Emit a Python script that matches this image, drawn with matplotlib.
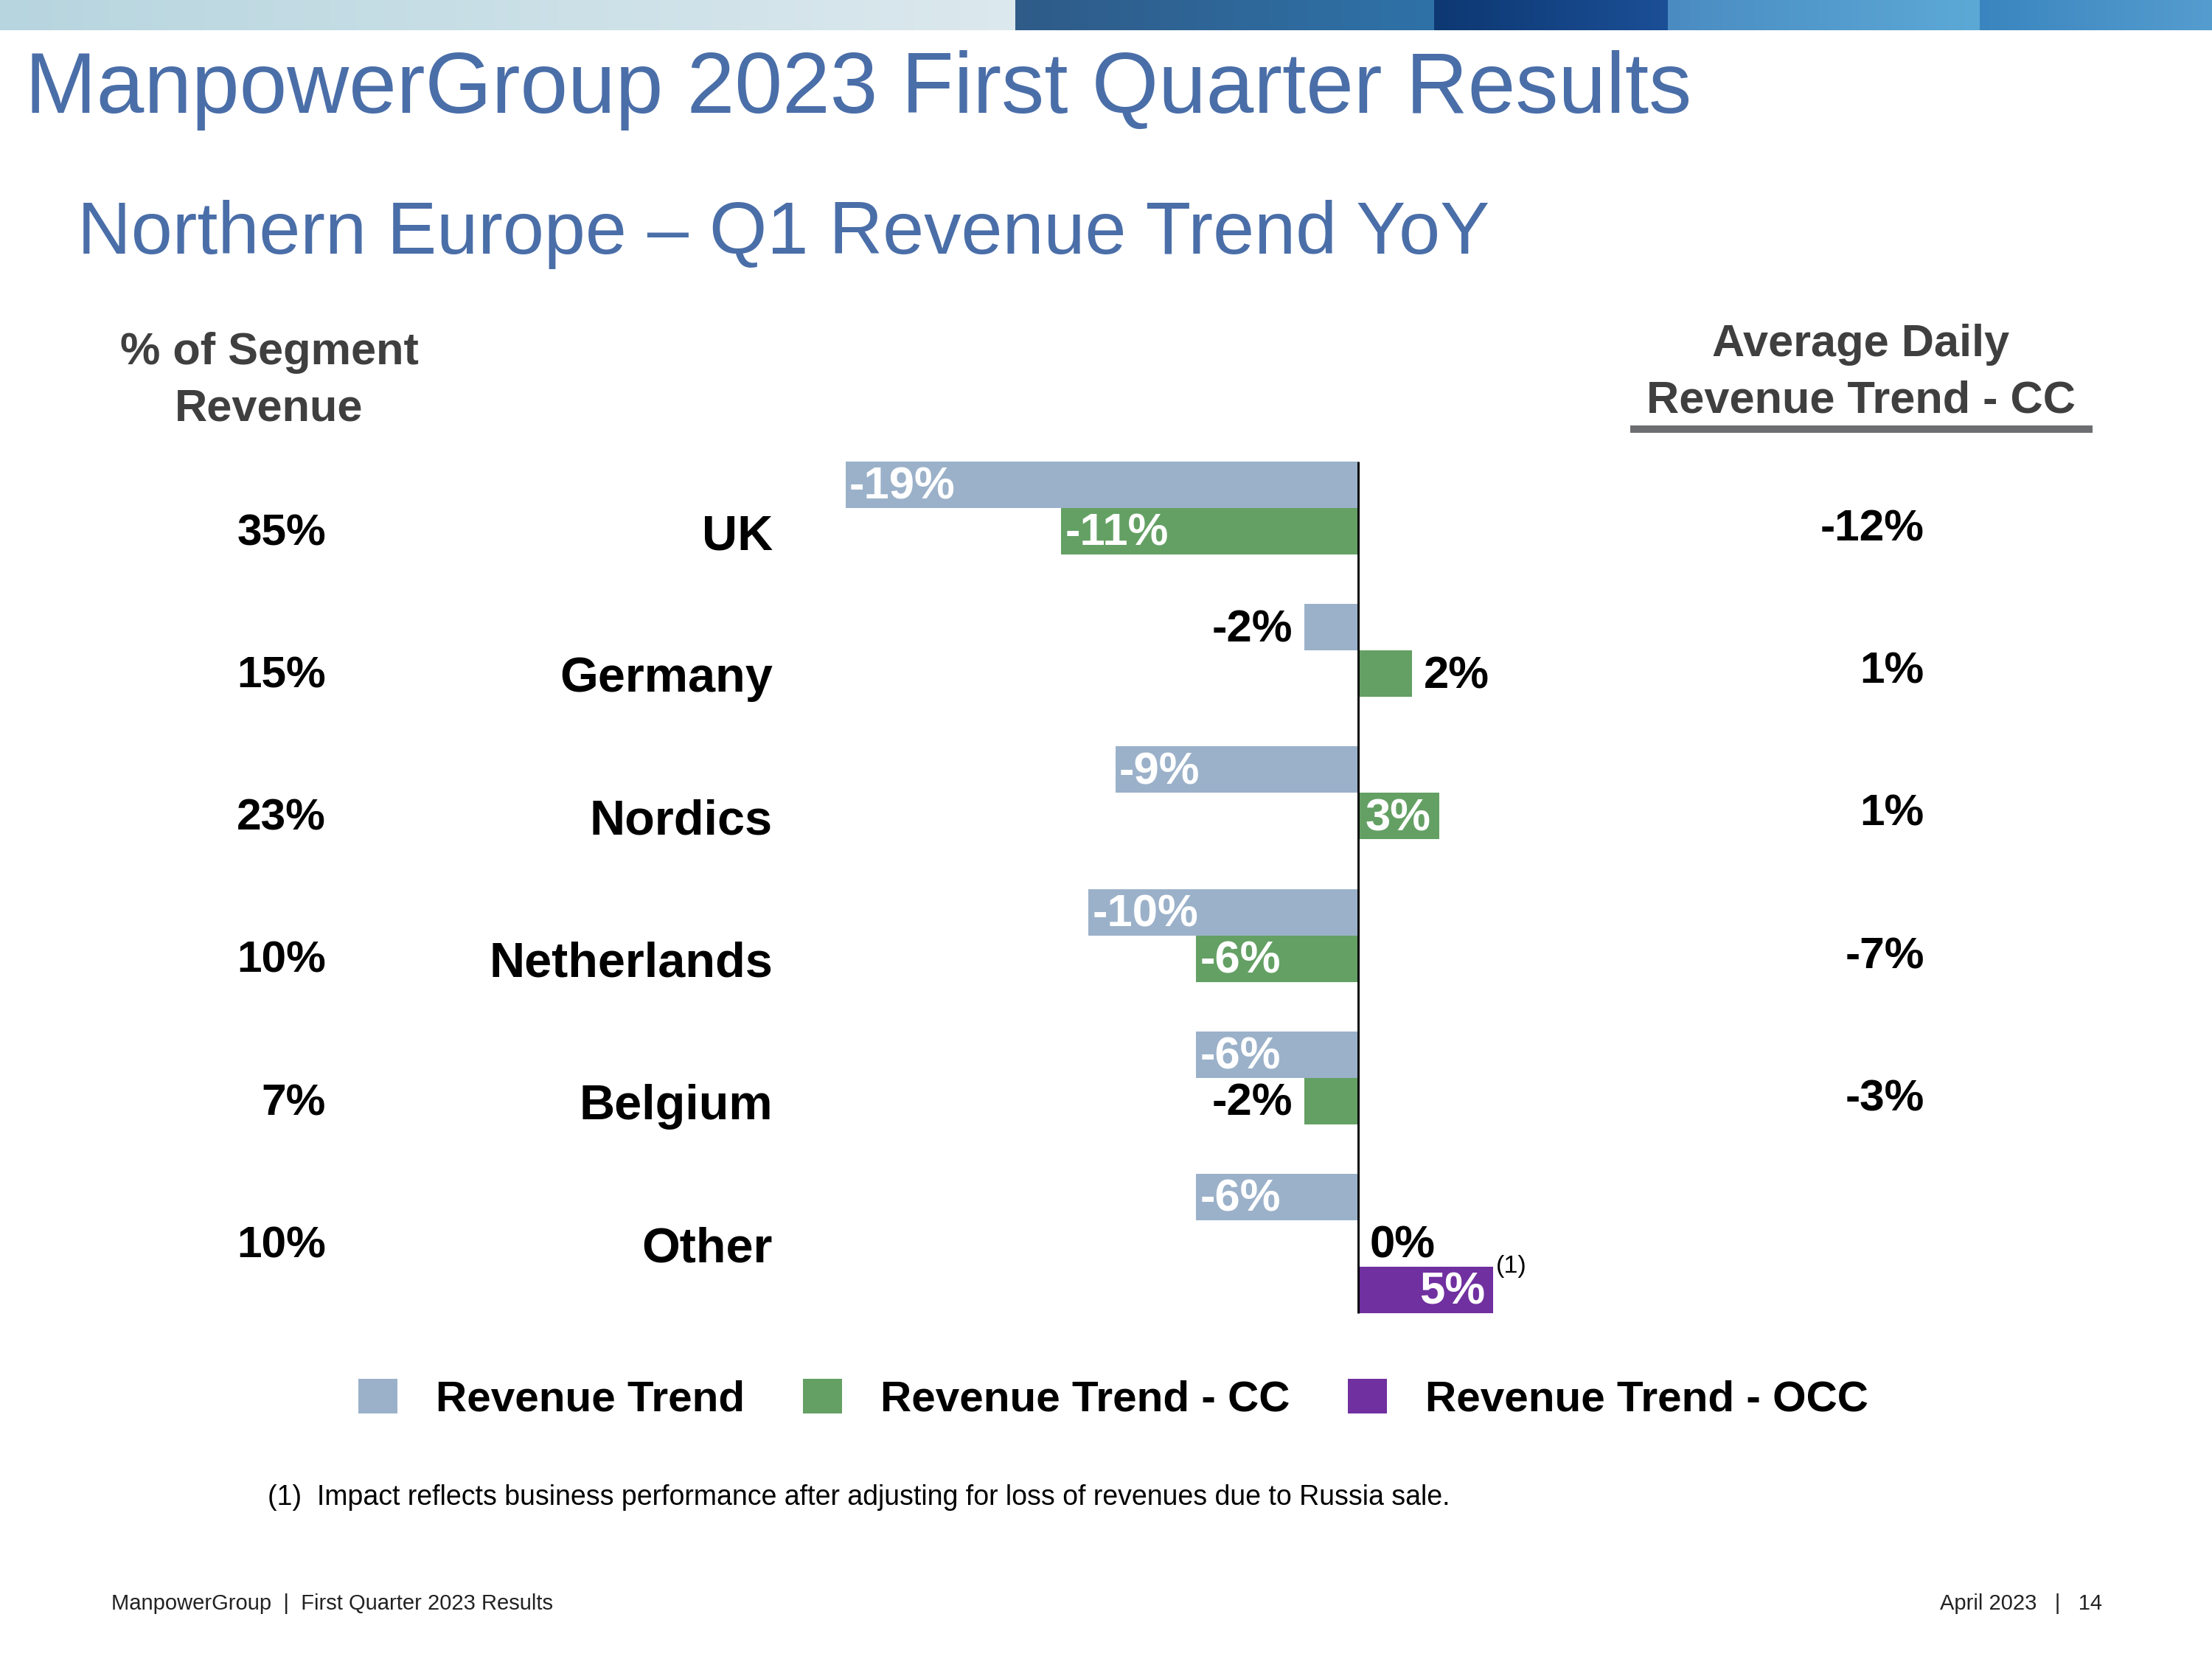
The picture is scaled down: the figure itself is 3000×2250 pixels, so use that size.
import matplotlib.pyplot as plt
import matplotlib.transforms as mtransforms
from matplotlib.colors import to_rgb
from matplotlib.lines import Line2D
from matplotlib.patches import Patch
import numpy as np

plt.rcParams['font.family'] = ['Liberation Sans', 'DejaVu Sans']

# data
regions = ['UK', 'Germany', 'Nordics', 'Netherlands', 'Belgium', 'Other']
segment_share = ['35%', '15%', '23%', '10%', '7%', '10%']
revenue_trend = [-19, -2, -9, -10, -6, -6]
revenue_trend_cc = [-11, 2, 3, -6, -2, 0]
revenue_trend_occ = [np.nan, np.nan, np.nan, np.nan, np.nan, 5]
adr_trend_cc = ['-12%', '1%', '1%', '-7%', '-3%', '']
series_names = ['Revenue Trend', 'Revenue Trend - CC', 'Revenue Trend - OCC']
colors = ['#9bb1c9', '#64a064', '#7030a0']

title_blue = '#4a6ea8'
W, H = 3000, 2250


def fx(px):
    return px / W


def fy(py):
    return 1 - py / H


fig = plt.figure(figsize=(10, 7.5), dpi=300)

# banner strip on top
segments = [(0, 1377, '#b7d5df', '#dce9ee'),
            (1377, 1945, '#2f5b88', '#2e72a8'),
            (1945, 2262, '#0d3872', '#1b4f96'),
            (2262, 2685, '#4a8cc2', '#5ca9d6'),
            (2685, 3000, '#3a85bf', '#559dcf')]
strip = np.zeros((1, W, 3))
for x0, x1, c0, c1 in segments:
    t = np.linspace(0, 1, x1 - x0)[:, None]
    strip[0, x0:x1] = (1 - t) * np.array(to_rgb(c0)) + t * np.array(to_rgb(c1))
bax = fig.add_axes([0, fy(41), 1, 41 / H])
bax.imshow(strip, aspect='auto', extent=(0, 1, 0, 1))
bax.axis('off')

fig.text(fx(34), fy(153), 'ManpowerGroup 2023 First Quarter Results',
         fontsize=27.9, color=title_blue, va='baseline')
fig.text(fx(105), fy(344), 'Northern Europe \u2013 Q1 Revenue Trend YoY',
         fontsize=24.2, color=title_blue, va='baseline')

# bar axes
zero_px, px_per_pct = 1842, 36.6
row0_px, px_per_row = 689, 193.2
ax_l, ax_r, ax_t, ax_b = 1100, 2100, 600, 1800
ax = fig.add_axes([fx(ax_l), fy(ax_b), (ax_r - ax_l) / W, (ax_b - ax_t) / H])
ax.set_xlim((ax_l - zero_px) / px_per_pct, (ax_r - zero_px) / px_per_pct)
ax.set_ylim((ax_b - row0_px) / px_per_row, (ax_t - row0_px) / px_per_row)
ax.axis('off')

h = 0.326
y = np.arange(len(regions))
offsets = [-h / 2, h / 2, 1.5 * h]


def bar_label(v, yc):
    txt = f'{v:.0f}%'
    if abs(v) >= 3:
        color = 'white'
        x, ha = (v + 0.15, 'left') if v < 0 else (v - 0.3, 'right')
    else:
        color = 'black'
        x, ha = (v - 0.42, 'right') if v < 0 else (v + 0.42, 'left')
    ax.text(x, yc + 0.02, txt, ha=ha, va='center', fontsize=14.8,
            fontweight='bold', color=color)


for vals, off, c in zip([revenue_trend, revenue_trend_cc, revenue_trend_occ], offsets, colors):
    vals = np.array(vals, dtype=float)
    ok = ~np.isnan(vals)
    ax.barh(y[ok] + off, vals[ok], height=h, color=c)
    for v, yc in zip(vals[ok], y[ok] + off):
        bar_label(v, yc)

ax.vlines(0, -h, len(regions) - 1 + 2 * h, color='black', lw=0.7)
ax.text(5 + 0.1, len(regions) - 1 + h, '(1)', fontsize=8.2, va='center', ha='left')

# side columns
trans = mtransforms.blended_transform_factory(fig.transFigure, ax.transData)
for i in range(len(regions)):
    ax.text(fx(442), i + 0.26, segment_share[i], transform=trans, ha='right',
            va='baseline', fontsize=14.5, fontweight='bold')
    ax.text(fx(1048), i + 0.29, regions[i], transform=trans, ha='right',
            va='baseline', fontsize=16, fontweight='bold')
    ax.text(fx(2610), i + 0.23, adr_trend_cc[i], transform=trans, ha='right',
            va='baseline', fontsize=14.5, fontweight='bold')

hdr = dict(ha='center', va='baseline', fontsize=14.7, fontweight='bold', color='#3f3f3f')
fig.text(fx(365), fy(494), '% of Segment', **hdr)
fig.text(fx(365), fy(570), 'Revenue', **hdr)
fig.text(fx(2524), fy(483), 'Average Daily', **hdr)
fig.text(fx(2524), fy(559), 'Revenue Trend - CC', **hdr)
fig.add_artist(Line2D([fx(2216), fx(2833)], [fy(582), fy(582)], color='#6d6e71',
                      lw=2.4, transform=fig.transFigure))

handles = [Patch(facecolor=c, edgecolor='none') for c in colors]
fig.legend(handles, series_names, loc='center', bbox_to_anchor=(fx(1510), fy(1898)),
           ncol=3, frameon=False, prop=dict(weight='bold', size=14),
           handlelength=0.92, handleheight=0.86, handletextpad=0.89,
           columnspacing=1.34, borderpad=0, borderaxespad=0)

fig.text(fx(363), fy(2041),
         '(1)  Impact reflects business performance after adjusting for loss of revenues due to Russia sale.',
         fontsize=9.0, va='baseline')
fig.text(fx(151), fy(2183), 'ManpowerGroup  |  First Quarter 2023 Results',
         fontsize=7.0, va='baseline', color='#222222')
fig.text(fx(2851), fy(2183), 'April 2023   |   14', ha='right',
         fontsize=7.0, va='baseline', color='#222222')

fig.savefig('out.png', dpi=300)
